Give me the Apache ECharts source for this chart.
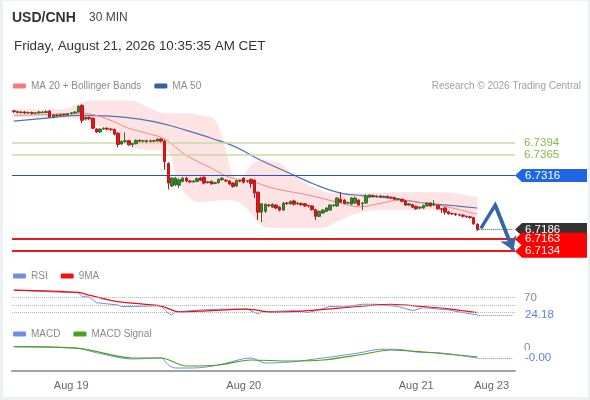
<!DOCTYPE html>
<html>
<head>
<meta charset="utf-8">
<script src="https://cdn.jsdelivr.net/npm/echarts@6/dist/echarts.min.js"></script>
<style>
html, body { margin: 0; padding: 0; background: #edf1f4; }
#card { position: absolute; left: 3px; top: 1px; width: 585px; height: 396px; background: #fff; }
#chart { position: absolute; left: 0; top: 0; width: 590px; height: 400px; }
</style>
</head>
<body>
<div id="card"></div>
<div id="chart"></div>
<script>
var FONT = '"Liberation Sans", Arial, sans-serif';

// x slots (30 min candles + empty room on the right)
var slotCount = 140;
var tickIdx = [16, 64, 112, 133];
var tickText = ['Aug 19', 'Aug 20', 'Aug 21', 'Aug 23'];

// [open, close, low, high]
var ohlc = [
  [6.7472,6.7470,6.7467,6.7474],[6.7470,6.7468,6.7466,6.7472],[6.7468,6.7469,6.7465,6.7471],
  [6.7469,6.7467,6.7464,6.7471],[6.7467,6.7468,6.7465,6.7470],[6.7468,6.7466,6.7463,6.7470],
  [6.7466,6.7467,6.7464,6.7469],[6.7467,6.7469,6.7465,6.7472],[6.7469,6.7468,6.7466,6.7471],
  [6.7468,6.7470,6.7466,6.7473],[6.7471,6.7457,6.7455,6.7474],[6.7457,6.7462,6.7455,6.7464],
  [6.7462,6.7460,6.7458,6.7464],[6.7460,6.7463,6.7458,6.7465],[6.7463,6.7462,6.7460,6.7465],
  [6.7462,6.7465,6.7460,6.7467],[6.7465,6.7467,6.7463,6.7469],[6.7467,6.7469,6.7465,6.7471],
  [6.7469,6.7483,6.7467,6.7485],[6.7485,6.7449,6.7442,6.7488],[6.7452,6.7456,6.7449,6.7458],
  [6.7456,6.7453,6.7450,6.7458],[6.7454,6.7430,6.7428,6.7456],[6.7428,6.7421,6.7419,6.7430],
  [6.7421,6.7428,6.7419,6.7430],[6.7428,6.7430,6.7426,6.7432],[6.7430,6.7428,6.7425,6.7432],
  [6.7428,6.7427,6.7424,6.7430],[6.7427,6.7416,6.7413,6.7429],[6.7418,6.7391,6.7384,6.7420],
  [6.7392,6.7398,6.7390,6.7401],[6.7398,6.7400,6.7395,6.7420],[6.7400,6.7390,6.7388,6.7402],
  [6.7391,6.7393,6.7384,6.7395],[6.7393,6.7401,6.7391,6.7403],[6.7401,6.7399,6.7396,6.7403],
  [6.7399,6.7400,6.7396,6.7402],[6.7400,6.7398,6.7395,6.7402],[6.7398,6.7400,6.7396,6.7403],
  [6.7400,6.7399,6.7396,6.7402],[6.7399,6.7404,6.7397,6.7406],[6.7404,6.7399,6.7396,6.7406],
  [6.7399,6.7350,6.7330,6.7402],[6.7345,6.7298,6.7283,6.7348],[6.7291,6.7310,6.7288,6.7312],
  [6.7294,6.7310,6.7291,6.7313],[6.7293,6.7306,6.7286,6.7309],[6.7302,6.7310,6.7300,6.7312],
  [6.7310,6.7303,6.7300,6.7313],[6.7303,6.7301,6.7298,6.7305],[6.7301,6.7303,6.7298,6.7305],
  [6.7302,6.7309,6.7300,6.7311],[6.7310,6.7305,6.7303,6.7313],[6.7312,6.7298,6.7295,6.7314],
  [6.7299,6.7301,6.7297,6.7303],[6.7302,6.7296,6.7294,6.7304],[6.7297,6.7299,6.7295,6.7301],
  [6.7299,6.7307,6.7297,6.7309],[6.7306,6.7310,6.7303,6.7312],[6.7305,6.7303,6.7300,6.7307],
  [6.7303,6.7296,6.7293,6.7305],[6.7298,6.7290,6.7287,6.7300],[6.7291,6.7304,6.7289,6.7306],
  [6.7304,6.7303,6.7300,6.7306],[6.7310,6.7300,6.7297,6.7312],[6.7302,6.7303,6.7299,6.7305],
  [6.7307,6.7297,6.7287,6.7309],[6.7305,6.7274,6.7262,6.7307],[6.7276,6.7228,6.7209,6.7278],
  [6.7228,6.7248,6.7204,6.7250],[6.7230,6.7247,6.7226,6.7249],[6.7245,6.7244,6.7240,6.7248],
  [6.7240,6.7247,6.7238,6.7249],[6.7245,6.7238,6.7235,6.7247],[6.7240,6.7233,6.7230,6.7243],
  [6.7233,6.7250,6.7231,6.7252],[6.7250,6.7249,6.7245,6.7252],[6.7248,6.7254,6.7246,6.7256],
  [6.7255,6.7247,6.7244,6.7258],[6.7248,6.7250,6.7245,6.7253],[6.7249,6.7246,6.7243,6.7251],
  [6.7248,6.7243,6.7241,6.7250],[6.7244,6.7243,6.7239,6.7246],[6.7243,6.7234,6.7232,6.7245],
  [6.7234,6.7218,6.7209,6.7236],[6.7218,6.7230,6.7216,6.7232],[6.7226,6.7233,6.7224,6.7235],
  [6.7230,6.7238,6.7228,6.7240],[6.7233,6.7245,6.7231,6.7247],[6.7244,6.7245,6.7241,6.7248],
  [6.7243,6.7262,6.7241,6.7264],[6.7259,6.7252,6.7250,6.7276],[6.7257,6.7249,6.7247,6.7259],
  [6.7250,6.7251,6.7247,6.7253],[6.7247,6.7262,6.7245,6.7264],[6.7250,6.7262,6.7248,6.7265],
  [6.7257,6.7245,6.7243,6.7259],[6.7248,6.7250,6.7233,6.7252],[6.7250,6.7267,6.7248,6.7271],
  [6.7264,6.7269,6.7262,6.7271],[6.7268,6.7266,6.7263,6.7270],[6.7266,6.7267,6.7263,6.7269],
  [6.7267,6.7265,6.7262,6.7269],[6.7265,6.7266,6.7262,6.7268],[6.7266,6.7264,6.7261,6.7268],
  [6.7264,6.7263,6.7260,6.7266],[6.7263,6.7259,6.7257,6.7265],[6.7259,6.7260,6.7256,6.7262],
  [6.7259,6.7254,6.7252,6.7261],[6.7255,6.7245,6.7243,6.7257],[6.7245,6.7248,6.7243,6.7250],
  [6.7246,6.7240,6.7238,6.7248],[6.7242,6.7236,6.7234,6.7244],[6.7238,6.7240,6.7235,6.7242],
  [6.7238,6.7244,6.7236,6.7246],[6.7243,6.7250,6.7241,6.7252],[6.7250,6.7243,6.7241,6.7252],
  [6.7245,6.7247,6.7243,6.7257],[6.7244,6.7236,6.7234,6.7246],[6.7236,6.7235,6.7226,6.7238],
  [6.7238,6.7228,6.7222,6.7240],[6.7229,6.7224,6.7222,6.7231],[6.7225,6.7224,6.7221,6.7227],
  [6.7224,6.7222,6.7219,6.7226],[6.7222,6.7221,6.7218,6.7224],[6.7221,6.7218,6.7215,6.7223],
  [6.7218,6.7217,6.7214,6.7220],[6.7217,6.7215,6.7212,6.7219],[6.7215,6.7200,6.7197,6.7217],
  [6.7199,6.7186,6.7183,6.7201]
];

// indicator lines, [slot, value]
var ma20 = [[0,6.7461],[9,6.7463],[18,6.7466],[22,6.7463],[27,6.7449],[32,6.7430],[37,6.7418],
  [42,6.7404],[48,6.7365],[55,6.7334],[60,6.7312],[66,6.7303],[72,6.7286],[82,6.7269],[91,6.7250],
  [96,6.7241],[102,6.7249],[107,6.7257],[114,6.7250],[121,6.7240],[129,6.7223]];
var ma50 = [[0,6.7447],[10,6.7455],[18,6.7461],[27,6.7459],[35,6.7452],[42,6.7440],[48,6.7425],
  [55,6.7406],[62,6.7384],[68,6.7356],[78,6.7317],[84,6.7294],[91,6.7274],[97,6.7268],[105,6.7262],
  [114,6.7250],[122,6.7244],[129,6.7238]];
var bandUpper = [[0,6.7476],[13,6.7476],[18,6.7488],[21,6.7497],[32,6.7497],[38,6.7478],[42,6.7466],
  [48,6.7466],[52,6.7461],[56,6.7449],[59,6.7377],[61,6.7317],[63,6.7305],[66,6.7341],[69,6.7353],
  [74,6.7346],[78,6.7317],[84,6.7286],[89,6.7274],[96,6.7274],[107,6.7276],[119,6.7276],[129,6.7264]];
var bandLower = [[0,6.7457],[16,6.7454],[21,6.7445],[27,6.7418],[32,6.7389],[38,6.7377],[42,6.7377],
  [47,6.7281],[52,6.7252],[59,6.7257],[63,6.7250],[67,6.7216],[70,6.7192],[77,6.7189],[85,6.7189],
  [91,6.7209],[96,6.7226],[102,6.7233],[119,6.7233],[123,6.7226],[129,6.7216]];

var resistLevels = [6.7394, 6.7365];
var pivotLevel = 6.7316;
var supportLevels = [6.7163, 6.7134];
var lastPrice = 6.7186;
var forecastPath = [[130, 6.7189], [134, 6.7245], [139, 6.7136]];

var rsi = [[0,89],[9,85],[18,82],[19,72],[21,71],[23,56],[29,50],[30,46],[33,46],[41,48],[43,28],
  [44,24],[45,32],[52,37],[57,39],[65,39],[68,26],[69,32],[74,34],[78,35],[82,30],[88,46],[92,45],
  [97,52],[101,52],[107,46],[111,35],[114,43],[121,37],[125,30],[129,24.18]];
var rsiMa = [[0,89],[18,83],[21,76],[29,59],[41,47],[46,32],[52,34],[65,39],[72,31],[80,34],
  [96,46],[105,52],[114,46],[121,40],[129,30]];
var rsiLevels = [70, 50, 30];
var rsiLast = 24.18;

var macd = [[0,0.00013],[18,-0.00003],[23,-0.00047],[33,-0.0011],[41,-0.0010],[43,-0.0017],
  [45,-0.0020],[50,-0.0020],[57,-0.0017],[66,-0.0010],[70,-0.0015],[77,-0.0014],[86,-0.0010],
  [96,-0.0005],[102,-0.00013],[107,-0.00013],[112,-0.0004],[119,-0.0005],[129,-0.0010]];
var macdSignal = [[0,0.00013],[18,-0.00003],[33,-0.0010],[41,-0.0010],[48,-0.0018],[57,-0.0017],
  [66,-0.0012],[77,-0.0013],[86,-0.0012],[96,-0.0007],[105,-0.0002],[114,-0.0004],[129,-0.0009]];
var macdLast = -0.0010;

var cats = [];
for (var i = 0; i < slotCount; i++) cats.push(String(i));
var lastSlot = ohlc.length - 1;

var chart = echarts.init(document.getElementById('chart'));

function hiddenX(g) {
  return {type: 'category', gridIndex: g, data: cats, boundaryGap: true, show: false};
}
function dotted(color) {
  return {color: color, type: 'dotted', width: 1};
}
var legendText = {color: '#8a8a8a', fontSize: 10, fontFamily: FONT};

chart.setOption({
  animation: false,
  title: [
    {text: 'USD/CNH', left: 7, top: 6, textStyle: {fontSize: 14, fontWeight: 'bold', color: '#333', fontFamily: FONT}},
    {text: '30 MIN', left: 84, top: 7, textStyle: {fontSize: 12, fontWeight: 'normal', color: '#444', fontFamily: FONT}},
    {text: 'Friday, August 21, 2026 10:35:35 AM CET', left: 9, top: 35,
      textStyle: {fontSize: 13.4, fontWeight: 'normal', color: '#333', fontFamily: FONT}},
    {text: 'Research \u00a9 2026 Trading Central', right: 4, top: 76,
      textStyle: {fontSize: 10, fontWeight: 'normal', color: '#a0a0a0', fontFamily: FONT}}
  ],
  legend: [
    {data: [{name: 'MA 20 + Bollinger Bands', itemStyle: {color: '#f77b7b'}}, {name: 'MA 50', itemStyle: {color: '#3a5fa3'}}],
      left: 8, top: 76, icon: 'roundRect', itemWidth: 13, itemHeight: 5, itemGap: 13, selectedMode: false,
      textStyle: legendText},
    {data: [{name: 'RSI', itemStyle: {color: '#6d8fe6'}}, {name: '9MA', itemStyle: {color: '#f01010'}}],
      left: 8, top: 266, icon: 'roundRect', itemWidth: 13, itemHeight: 5, itemGap: 13, selectedMode: false,
      textStyle: legendText},
    {data: [{name: 'MACD', itemStyle: {color: '#6d8fe6'}}, {name: 'MACD Signal', itemStyle: {color: '#4f9e1c'}}],
      left: 8, top: 324, icon: 'roundRect', itemWidth: 13, itemHeight: 5, itemGap: 13, selectedMode: false,
      textStyle: legendText}
  ],
  grid: [
    {left: 12, right: 75, top: 100, bottom: 138},
    {left: 12, right: 75, top: 286, bottom: 76},
    {left: 12, right: 75, top: 338, bottom: 29}
  ],
  xAxis: [
    hiddenX(0),
    hiddenX(1),
    {
      type: 'category', gridIndex: 2, data: cats, boundaryGap: true,
      axisLine: {onZero: false, lineStyle: {color: '#a3a3a3', width: 2}},
      axisTick: {interval: function (idx) { return idx === 0; }, length: 6, lineStyle: {color: '#a3a3a3', width: 2}},
      axisLabel: {
        interval: function (idx) { return tickIdx.indexOf(idx) >= 0; },
        formatter: function (v, idx) { var k = tickIdx.indexOf(idx); return k >= 0 ? tickText[k] : ''; },
        color: '#666', fontSize: 11, fontFamily: FONT, margin: 9
      }
    }
  ],
  yAxis: [
    {type: 'value', gridIndex: 0, min: 6.7108, max: 6.7498, show: false},
    {type: 'value', gridIndex: 1, min: 0, max: 100, show: false},
    {type: 'value', gridIndex: 2, min: -0.0023, max: 0.0010, show: false}
  ],
  series: [
    {
      type: 'line', xAxisIndex: 0, yAxisIndex: 0, data: bandUpper, smooth: 0.4, symbol: 'none', silent: true, z: 1,
      lineStyle: {width: 0}, areaStyle: {color: '#fde3e3', opacity: 1, origin: 'start'}
    },
    {
      type: 'line', xAxisIndex: 0, yAxisIndex: 0, data: bandLower, smooth: 0.4, symbol: 'none', silent: true, z: 2,
      lineStyle: {width: 0}, areaStyle: {color: '#ffffff', opacity: 1, origin: 'start'}
    },
    {
      type: 'line', xAxisIndex: 0, yAxisIndex: 0, data: [], z: 3, silent: true,
      markLine: {
        silent: true, precision: 6, symbol: ['none', 'none'], label: {show: false},
        data: [
          {yAxis: resistLevels[0], lineStyle: {color: '#c4dda4', width: 1.5, type: 'solid'}},
          {yAxis: resistLevels[1], lineStyle: {color: '#c4dda4', width: 1.5, type: 'solid'}},
          {yAxis: pivotLevel, lineStyle: {color: '#1f55c9', width: 1.2, type: 'solid'}},
          {yAxis: supportLevels[0], lineStyle: {color: '#e51b1b', width: 2, type: 'solid'}},
          {yAxis: supportLevels[1], lineStyle: {color: '#e51b1b', width: 2, type: 'solid'}},
          [{coord: [lastSlot, lastPrice], lineStyle: dotted('#555')}, {coord: [slotCount - 1, lastPrice]}]
        ]
      }
    },
    {
      name: 'MA 50', type: 'line', xAxisIndex: 0, yAxisIndex: 0, data: ma50, smooth: 0.4, symbol: 'none', z: 4,
      lineStyle: {color: '#4f72b8', width: 1.2}
    },
    {
      name: 'MA 20 + Bollinger Bands', type: 'line', xAxisIndex: 0, yAxisIndex: 0, data: ma20, smooth: 0.4,
      symbol: 'none', z: 4, lineStyle: {color: '#f28686', width: 1}
    },
    {
      type: 'candlestick', xAxisIndex: 0, yAxisIndex: 0, data: ohlc, barWidth: 3, z: 5,
      itemStyle: {color: '#3b8a2e', color0: '#e3161b', borderColor: '#2f6e25', borderColor0: '#c01217', borderWidth: 1}
    },
    {
      type: 'line', xAxisIndex: 0, yAxisIndex: 0, data: forecastPath, symbol: 'none', z: 6,
      lineStyle: {color: '#3567a8', width: 3.5, join: 'miter'},
      markLine: {
        silent: true, precision: 6, symbol: ['none', 'arrow'], symbolSize: 13, label: {show: false},
        lineStyle: {color: '#3567a8', width: 3.5, type: 'solid'},
        data: [[{coord: forecastPath[1]}, {coord: forecastPath[2]}]]
      }
    },
    {
      name: 'RSI', type: 'line', xAxisIndex: 1, yAxisIndex: 1, data: rsi, symbol: 'none',
      lineStyle: {color: '#6d8fe6', width: 1},
      markLine: {
        silent: true, precision: 6, symbol: ['none', 'none'], label: {show: false},
        data: rsiLevels.map(function (v) { return {yAxis: v, lineStyle: dotted('#b5b5b5')}; }).concat([
          [{coord: [lastSlot, rsiLast], lineStyle: dotted('#6d8fe6')}, {coord: [slotCount - 1, rsiLast]}]
        ])
      }
    },
    {
      name: '9MA', type: 'line', xAxisIndex: 1, yAxisIndex: 1, data: rsiMa, smooth: 0.3, symbol: 'none',
      lineStyle: {color: '#f01010', width: 1.2}
    },
    {
      name: 'MACD', type: 'line', xAxisIndex: 2, yAxisIndex: 2, data: macd, smooth: 0.3, symbol: 'none',
      lineStyle: {color: '#6d8fe6', width: 1},
      markLine: {
        silent: true, precision: 6, symbol: ['none', 'none'], label: {show: false},
        data: [[{coord: [lastSlot, macdLast], lineStyle: dotted('#6d8fe6')}, {coord: [slotCount - 1, macdLast]}]]
      }
    },
    {
      name: 'MACD Signal', type: 'line', xAxisIndex: 2, yAxisIndex: 2, data: macdSignal, smooth: 0.3, symbol: 'none',
      lineStyle: {color: '#4f9e1c', width: 1.2}
    }
  ]
});

// right-hand value tags, placed through the y scales
function yPx(axis, v) {
  return chart.convertToPixel({yAxisIndex: axis}, v);
}
function tag(y, color, text) {
  return [
    {type: 'polygon', silent: true, z: 100,
      shape: {points: [[515, y], [522, y - 6.5], [587, y - 6.5], [587, y + 6.5], [522, y + 6.5]]},
      style: {fill: color}},
    {type: 'text', silent: true, z: 101,
      style: {text: text, x: 525, y: y, fill: '#fff', font: '11.5px ' + FONT, verticalAlign: 'middle'}}
  ];
}
function plain(y, color, text, bg) {
  var st = {text: text, x: 524, y: y, fill: color, font: '11.5px ' + FONT, verticalAlign: 'middle'};
  if (bg) { st.backgroundColor = '#fff'; st.padding = [2, 3, 2, 1]; }
  return {type: 'text', silent: true, z: 100, style: st};
}

var g = [];
resistLevels.forEach(function (v) { g.push(plain(yPx(0, v), '#86b84a', v.toFixed(4))); });
g = g.concat(tag(yPx(0, pivotLevel), '#1f66e5', pivotLevel.toFixed(4)));
g = g.concat(tag(yPx(0, lastPrice), '#333333', lastPrice.toFixed(4)));
supportLevels.forEach(function (v) { g = g.concat(tag(yPx(0, v), '#ff0000', v.toFixed(4))); });
g.push(plain(yPx(1, rsiLevels[0]), '#888', String(rsiLevels[0])));
g.push(plain(yPx(1, rsiLevels[2]), '#888', String(rsiLevels[2])));
g.push(plain(yPx(1, rsiLast), '#5b7fe6', rsiLast.toFixed(2), true));
g.push(plain(yPx(2, 0), '#888', '0'));
g.push(plain(yPx(2, macdLast), '#5b7fe6', macdLast.toFixed(2), true));
chart.setOption({graphic: g});
</script>
</body>
</html>
